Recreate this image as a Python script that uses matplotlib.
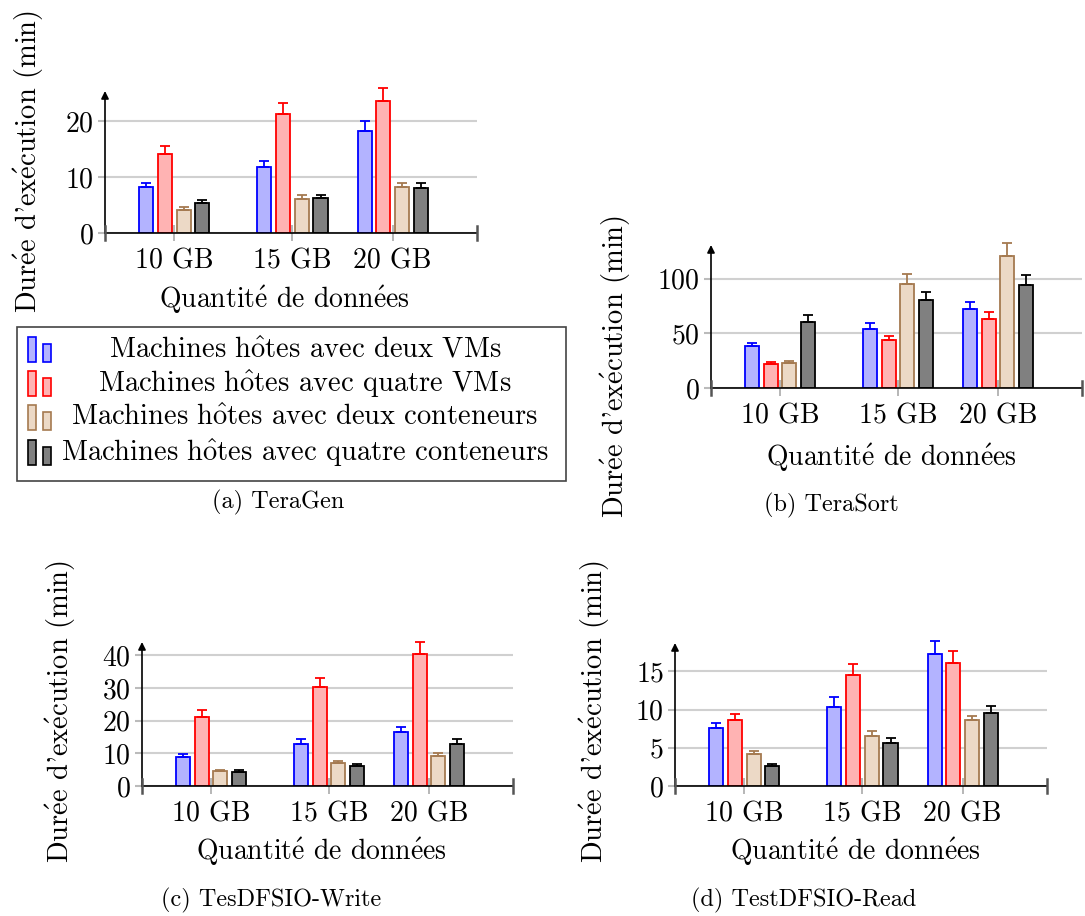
import matplotlib
matplotlib.use("Agg")
import matplotlib.pyplot as plt
from matplotlib.patches import Rectangle

plt.rcParams["font.family"] = ["cmr10", "DejaVu Serif"]
plt.rcParams["mathtext.fontset"] = "cm"
plt.rcParams["axes.unicode_minus"] = False
plt.rcParams["axes.formatter.use_mathtext"] = True

# -----------------------------------------------------------------------------
# Data (rows: VM x2, VM x4, conteneurs x2, conteneurs x4 ; cols: 10/15/20 GB)
# -----------------------------------------------------------------------------
categories = ["10 GB", "15 GB", "20 GB"]
# accents written as mathtext so that cmr10 draws them (the ttf lacks é/ô)
series_labels = [
    r"Machines h$\mathrm{\hat{o}}$tes avec deux VMs",
    r"Machines h$\mathrm{\hat{o}}$tes avec quatre VMs",
    r"Machines h$\mathrm{\hat{o}}$tes avec deux conteneurs",
    r"Machines h$\mathrm{\hat{o}}$tes avec quatre conteneurs",
]
xlabel_text = r"Quantit$\mathrm{\acute{e}}$ de donn$\mathrm{\acute{e}}$es"
ylabel_text = r"Dur$\mathrm{\acute{e}}$e d'ex$\mathrm{\acute{e}}$cution (min)"

teragen_mean = [[8.2, 11.8, 18.2], [14.2, 21.2, 23.6], [4.2, 6.15, 8.24], [5.3, 6.2, 8.06]]
teragen_err = [[0.76, 1.1, 1.8], [1.4, 2.1, 2.4], [0.46, 0.6, 0.72], [0.55, 0.6, 0.84]]

terasort_mean = [[38.0, 53.8, 72.0], [22.2, 43.5, 62.9], [22.5, 95.1, 120.4], [60.2, 80.2, 93.9]]
terasort_err = [[2.7, 5.5, 7.0], [1.8, 3.9, 6.4], [1.8, 9.2, 11.8], [6.1, 7.9, 9.4]]

write_mean = [[9.0, 13.0, 16.6], [21.1, 30.2, 40.3], [4.7, 6.9, 9.3], [4.4, 6.2, 13.0]]
write_err = [[0.8, 1.4, 1.6], [2.1, 3.0, 3.9], [0.3, 0.9, 0.9], [0.6, 0.6, 1.4]]

read_mean = [[7.63, 10.3, 17.2], [8.59, 14.57, 16.1], [4.14, 6.59, 8.63], [2.57, 5.67, 9.6]]
read_err = [[0.66, 1.3, 1.7], [0.83, 1.39, 1.6], [0.4, 0.65, 0.57], [0.26, 0.61, 0.9]]

# -----------------------------------------------------------------------------
# Styles / layout
# -----------------------------------------------------------------------------
FACES = ["#b3b3ff", "#ffb3b3", "#ecd9c6", "#808080"]
EDGES = ["#0000ff", "#ff0000", "#a57a50", "#000000"]
GROUP_X = [0.0, 1.0, 1.847]
XLIM = (-0.585, 2.56)
BAR_W = 0.119
BAR_STEP = 0.158
FS = 20

W, H = 1085, 916


def px_box(left, top, right, bottom):
    return [left / W, 1 - bottom / H, (right - left) / W, (bottom - top) / H]


def draw_panel(ax, means, errs, yticks, ymax):
    for i, (m, e) in enumerate(zip(means, errs)):
        xs = [g + (i - 1.5) * BAR_STEP for g in GROUP_X]
        ax.bar(xs, m, width=BAR_W, color=FACES[i], edgecolor=EDGES[i], linewidth=1.3, zorder=3)
        ax.errorbar(xs, m, yerr=[[0] * len(e), e], fmt="none", ecolor=EDGES[i],
                    elinewidth=1.3, capsize=3.3, capthick=1.3, zorder=4, clip_on=False)
    ax.set_xlim(*XLIM)
    ax.set_ylim(0, ymax)
    ax.set_xticks(GROUP_X, categories)
    ax.set_yticks(yticks)
    ax.grid(axis="y", color="#d0d0d0", linewidth=1.5)
    ax.set_axisbelow(True)
    for s in ("top", "right", "left"):
        ax.spines[s].set_visible(False)
    ax.spines["bottom"].set_linewidth(1.2)
    ax.spines["bottom"].set_zorder(5)
    ax.tick_params(axis="x", direction="inout", length=12, width=1.2, color="#aaaaaa",
                   labelsize=FS, pad=5)
    ax.tick_params(axis="y", direction="out", length=5, width=1.5, color="#bbbbbb",
                   labelsize=FS, pad=3)
    ax.annotate("", xy=(0, 1), xytext=(0, 0), xycoords="axes fraction",
                arrowprops=dict(arrowstyle="-|>", color="black", lw=1.2,
                                mutation_scale=11, shrinkA=0, shrinkB=0))
    for xe in (0, 1):
        ax.plot([xe, xe], [-0.05, 0.05], transform=ax.transAxes, color="#555555",
                lw=1.8, clip_on=False, zorder=6)


fig = plt.figure(figsize=(W / 100, H / 100), dpi=100)

panels = [
    (px_box(105, 91, 477, 233), teragen_mean, teragen_err, [0, 10, 20], 25.4,
     (284, 300), (29, 161), "(a) TeraGen", (278, 502)),
    (px_box(711, 245, 1082, 388), terasort_mean, terasort_err, [0, 50, 100], 130.7,
     (891, 458), (616, 366), "(b) TeraSort", (831, 505)),
    (px_box(142, 642, 513, 786), write_mean, write_err, [0, 10, 20, 30, 40], 44.1,
     (321, 852), (61, 711), "(c) TesDFSIO-Write", (271, 900)),
    (px_box(675, 643, 1047, 786), read_mean, read_err, [0, 5, 10, 15], 18.7,
     (855, 852), (595, 711), "(d) TestDFSIO-Read", (804, 900)),
]

for box, means, errs, yt, ymax, xl, yl, cap, cp in panels:
    ax = fig.add_axes(box)
    draw_panel(ax, means, errs, yt, ymax)
    fig.text(xl[0] / W, 1 - xl[1] / H, xlabel_text, fontsize=FS,
             ha="center", va="center")
    fig.text(yl[0] / W, 1 - yl[1] / H, ylabel_text, fontsize=20.5,
             ha="center", va="center", rotation=90)
    fig.text(cp[0] / W, 1 - cp[1] / H, cap, fontsize=17.5, ha="center", va="center")

# legend drawn by hand: two small bars per entry, centred text
fig.patches.append(Rectangle((17 / W, 1 - 481 / H), (566 - 17) / W, (481 - 327) / H,
                             transform=fig.transFigure, facecolor="white",
                             edgecolor="#444444", linewidth=1.2))
entry_y = [350, 384, 418, 453]
for i, (label, yc) in enumerate(zip(series_labels, entry_y)):
    base = yc + 12
    fig.patches.append(Rectangle((28 / W, 1 - base / H), 8 / W, 25 / H,
                                 transform=fig.transFigure, facecolor=FACES[i],
                                 edgecolor=EDGES[i], linewidth=1.2))
    fig.patches.append(Rectangle((43 / W, 1 - base / H), 8 / W, 18 / H,
                                 transform=fig.transFigure, facecolor=FACES[i],
                                 edgecolor=EDGES[i], linewidth=1.2))
    fig.text(305 / W, 1 - yc / H, label, fontsize=20.5, ha="center", va="center")

fig.savefig("out.png", dpi=100)
